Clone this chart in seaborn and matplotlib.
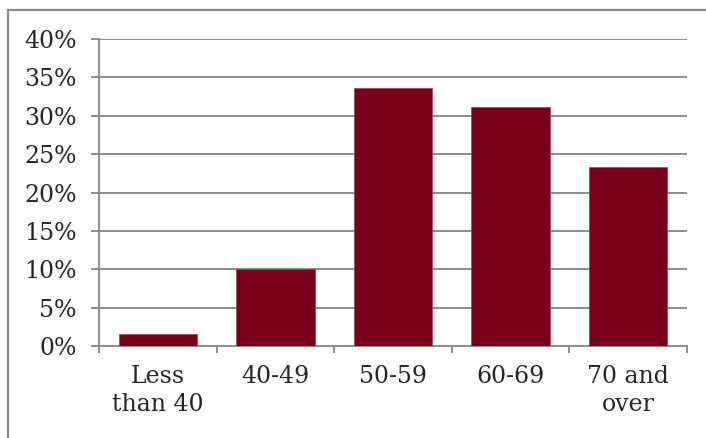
import matplotlib
matplotlib.use("Agg")
import matplotlib.pyplot as plt
from matplotlib.lines import Line2D
from matplotlib.ticker import FixedLocator, FuncFormatter
import seaborn as sns
import pandas as pd

# Share of respondents by age group
age_groups = ["Less\nthan 40", "40-49", "50-59", "60-69", "70 and\nover"]
shares = [1.5, 10.0, 33.6, 31.1, 23.3]
y_ticks = [0, 5, 10, 15, 20, 25, 30, 35, 40]

df = pd.DataFrame({"group": age_groups, "share": shares})

sns.set_theme(style="white")
plt.rcParams["font.family"] = ["DejaVu Serif"]

W, H, DPI = 706, 438, 100
fig = plt.figure(figsize=(W / DPI, H / DPI), dpi=DPI)
ax = fig.add_axes([99 / W, 1 - 346 / H, (687 - 99) / W, (346 - 39) / H])

bar_color = "#7a0019"
grid_color = "#8c8c8c"

sns.barplot(data=df, x="group", y="share", color=bar_color, width=0.667,
            saturation=1, ax=ax, zorder=3)
for p in ax.patches:
    p.set_edgecolor("#a0405a")
    p.set_linewidth(0.5)

ax.set_xlim(-0.5, len(age_groups) - 0.5)
ax.set_ylim(0, 40)
ax.yaxis.set_major_locator(FixedLocator(y_ticks))
ax.yaxis.set_major_formatter(FuncFormatter(lambda v, _: f"{int(v)}%"))
ax.grid(axis="y", color=grid_color, linewidth=1.4, zorder=0)
ax.set_axisbelow(True)

for side in ("top", "right"):
    ax.spines[side].set_visible(False)
for side in ("left", "bottom"):
    ax.spines[side].set_color(grid_color)
    ax.spines[side].set_linewidth(1.4)

# category separators on the x axis
ax.set_xticks([i - 0.5 for i in range(len(age_groups) + 1)], minor=True)
ax.tick_params(axis="x", which="minor", length=5, width=1.4, color=grid_color,
               direction="out", bottom=True)
ax.tick_params(axis="x", which="major", length=0, pad=14, labelsize=17)
ax.tick_params(axis="y", which="major", length=6, width=1.4, color=grid_color,
               direction="out", left=True, pad=10, labelsize=17)
for lbl in ax.get_xticklabels():
    lbl.set_linespacing(1.25)
ax.set_xlabel("")
ax.set_ylabel("")

# chart frame
fig.add_artist(Line2D([8 / W, 1], [1 - 10 / H, 1 - 10 / H], color="#8a8a8a",
                      linewidth=1.6, transform=fig.transFigure))
fig.add_artist(Line2D([8 / W, 8 / W], [0, 1 - 10 / H], color="#8a8a8a",
                      linewidth=1.6, transform=fig.transFigure))

fig.savefig("out.png", dpi=DPI)
